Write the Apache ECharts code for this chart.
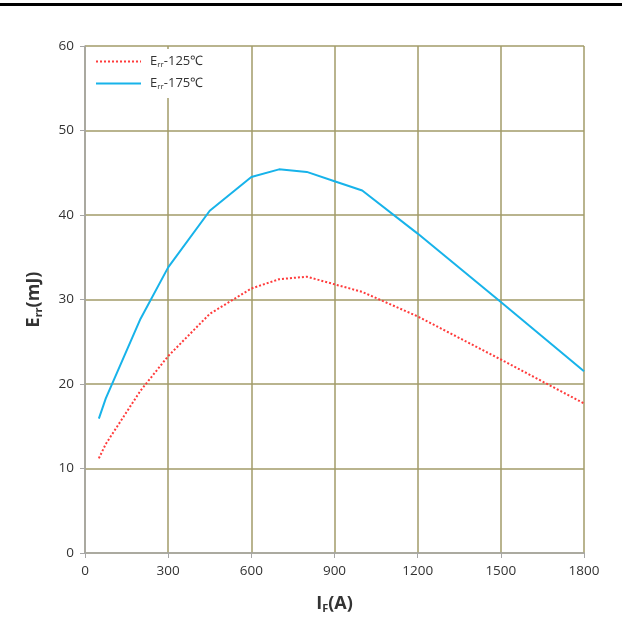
<!DOCTYPE html>
<html>
<head>
<meta charset="utf-8">
<script src="https://cdn.jsdelivr.net/npm/echarts@6/dist/echarts.min.js"></script>
<style>html,body{margin:0;padding:0;background:#fff}#c{width:622px;height:628px}</style>
</head>
<body>
<div id="c"></div>
<script>
var seriesNames = ['Err-125℃', 'Err-175℃'];
var current125 = [50, 75, 200, 300, 450, 600, 700, 800, 900, 1000, 1200, 1500, 1800];
var err125 = [11.2, 12.9, 19.2, 23.3, 28.3, 31.3, 32.4, 32.7, 31.8, 30.9, 28.0, 22.9, 17.7];
var current175 = [50, 75, 200, 300, 450, 600, 700, 800, 900, 1000, 1200, 1500, 1800];
var err175 = [15.9, 18.3, 27.7, 33.8, 40.5, 44.5, 45.4, 45.1, 44.0, 42.9, 37.8, 29.7, 21.5];
var xTicks = [0, 300, 600, 900, 1200, 1500, 1800];
var yTicks = [0, 10, 20, 30, 40, 50, 60];

function pairs(xs, ys) { return xs.map(function (x, i) { return [x, ys[i]]; }); }

var chart = echarts.init(document.getElementById('c'), null, {renderer: 'canvas'});
var gridColor = '#a29b68';
var axisColor = '#a6a6a6';
var lblFont = '"Open Sans", sans-serif';
chart.setOption({
  animation: false,
  backgroundColor: '#fff',
  graphic: [{type: 'rect', left: 0, top: 3, shape: {width: 622, height: 3}, style: {fill: '#000'}}],
  grid: {left: 85, right: 38, top: 46, bottom: 75, containLabel: false},
  legend: {
    left: 86, top: 49, orient: 'vertical', backgroundColor: '#fff',
    padding: [6, 26, 7, 9], itemGap: 8, itemWidth: 45, itemHeight: 16,
    itemStyle: {opacity: 0},
    data: seriesNames,
    formatter: function (n) { return '{a|E}{s|rr}{a|' + n.slice(3) + '}'; },
    textStyle: {
      fontFamily: lblFont, fontSize: 13, color: '#333', padding: [0, 0, 0, 4],
      rich: {a: {fontFamily: lblFont, fontSize: 13, color: '#333'},
             s: {fontFamily: lblFont, fontSize: 8, color: '#333', verticalAlign: 'bottom', padding: [7, 0, 0, 0]}}
    }
  },
  xAxis: {
    type: 'value', min: 0, max: 1800, interval: 300,
    name: '{a|I}{s|F}{a|(A)}', nameLocation: 'middle', nameGap: 40,
    nameTextStyle: {rich: {
      a: {fontFamily: lblFont, fontSize: 18, fontWeight: 'bold', color: '#333'},
      s: {fontFamily: lblFont, fontSize: 11, fontWeight: 'bold', color: '#333', verticalAlign: 'bottom', padding: [10, 0, 0, 0]}}},
    axisLine: {show: true, lineStyle: {color: axisColor, width: 1.5}},
    axisTick: {show: true, length: 5, lineStyle: {color: axisColor}},
    axisLabel: {fontFamily: lblFont, fontSize: 13.5, color: '#333', margin: 11,
      formatter: function (v) { return xTicks.indexOf(v) >= 0 ? String(v) : ''; }},
    splitLine: {show: true, lineStyle: {color: gridColor, width: 1.5}}
  },
  yAxis: {
    type: 'value', min: 0, max: 60, interval: 10,
    name: '{a|E}{s|rr}{a|(mJ)}', nameLocation: 'middle', nameGap: 41, nameRotate: 90,
    nameTextStyle: {rich: {
      a: {fontFamily: lblFont, fontSize: 18, fontWeight: 'bold', color: '#333'},
      s: {fontFamily: lblFont, fontSize: 11, fontWeight: 'bold', color: '#333', verticalAlign: 'bottom', padding: [10, 0, 0, 0]}}},
    axisLine: {show: true, lineStyle: {color: axisColor, width: 1.5}},
    axisTick: {show: true, length: 5, lineStyle: {color: axisColor}},
    axisLabel: {fontFamily: lblFont, fontSize: 13.5, color: '#333', margin: 11,
      formatter: function (v) { return yTicks.indexOf(v) >= 0 ? String(v) : ''; }},
    splitLine: {show: true, lineStyle: {color: gridColor, width: 1.5}}
  },
  series: [
    {name: seriesNames[0], type: 'line', data: pairs(current125, err125), showSymbol: false, symbol: 'none',
     lineStyle: {color: '#ff3b3b', width: 2, type: [2, 2]}, itemStyle: {color: '#ff3b3b'}, z: 3},
    {name: seriesNames[1], type: 'line', data: pairs(current175, err175), showSymbol: false, symbol: 'none',
     lineStyle: {color: '#17b3ea', width: 2}, itemStyle: {color: '#17b3ea'}, z: 3}
  ]
});
</script>
</body>
</html>
